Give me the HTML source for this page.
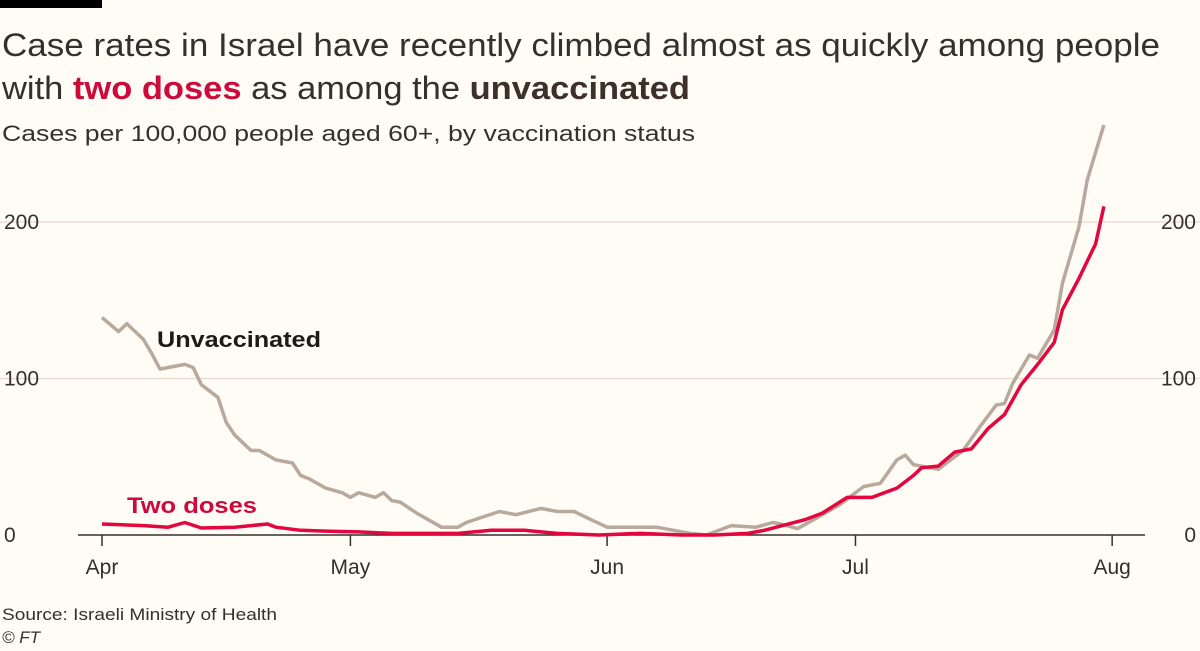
<!DOCTYPE html>
<html><head><meta charset="utf-8"><style>
body{margin:0;background:#fffcf6;font-family:"Liberation Sans",sans-serif;color:#33302e}
svg{display:block}
</style></head><body>
<svg width="1200" height="651">
<rect x="0" y="0" width="102" height="8" fill="#000"/>
<text x="2" y="56" font-size="32" fill="#33302e" textLength="1158" lengthAdjust="spacingAndGlyphs">Case rates in Israel have recently climbed almost as quickly among people</text>
<text x="2" y="99" font-size="32" fill="#33302e" textLength="688" lengthAdjust="spacingAndGlyphs">with <tspan fill="#cc0a3c" font-weight="bold">two doses</tspan> as among the <tspan font-weight="bold" fill="#3d3028">unvaccinated</tspan></text>
<text x="2" y="141" font-size="22" fill="#33302e" textLength="693" lengthAdjust="spacingAndGlyphs">Cases per 100,000 people aged 60+, by vaccination status</text>
<g id="grid"></g><g id="axis"></g><g id="lines"></g>
<text x="157" y="347" font-size="22" font-weight="bold" fill="#1e1a18" textLength="164" lengthAdjust="spacingAndGlyphs">Unvaccinated</text>
<text x="127" y="513" font-size="22" font-weight="bold" fill="#cc0a3c" textLength="130" lengthAdjust="spacingAndGlyphs">Two doses</text>
<text x="2" y="620" font-size="17" fill="#33302e" textLength="275" lengthAdjust="spacingAndGlyphs">Source: Israeli Ministry of Health</text>
<text x="2" y="643" font-size="17" fill="#33302e" font-style="italic">© FT</text>
</svg>
<script>
const yTicks=[0,100,200];
const xTickLabels=["Apr","May","Jun","Jul","Aug"];
const xTickDays=[0,30,61,91,122];
const unvDays=[0,2,3,5,6,7,8,10,11,12,14,15,16,18,19,21,23,24,25,27,29,30,31,33,34,35,36,38,41,43,44,48,50,53,55,57,59,61,67,71,73,76,79,81,82,84,87,89,91,92,94,96,97,98,101,102,104,106,108,109,110,112,113,115,116,118,119,121];
const unvVals=[139,130,135,125,116,106,107,109,107,96,88,72,64,54,54,48,46,38,36,30,27,24,27,24,27,22,21,14,5,5,8,15,13,17,15,15,10,5,5,1,0,6,5,8,7,4,13,19,27,31,33,48,51,45,42,46,54,69,83,84,97,115,113,131,161,197,227,262];
const twoDays=[0,5,8,10,12,16,20,21,24,27,31,35,39,43,47,51,53,55,60,65,70,74,78,80,85,87,90,93,96,98,99,101,103,105,107,109,111,113,115,116,118,120,121];
const twoVals=[7,6,5,8,4.5,5,7,5,3,2.5,2,1,1,1,3,3,2,1,0,1,0,0,1,3,10,14,24,24,30,38,43,44,53,55,68,77,96,109,123,144,164,186,210];
const X=d=>102+d*8.28, Y=v=>535-v*1.565;
const ns="http://www.w3.org/2000/svg";
function mk(tag,attrs,parent){const e=document.createElementNS(ns,tag);for(const k in attrs)e.setAttribute(k,attrs[k]);document.getElementById(parent).appendChild(e);return e;}
yTicks.forEach(t=>{
 if(t>0){const g=mk('line',{x1:0,x2:1200,y1:Y(t),y2:Y(t),stroke:'#e6d9ce','stroke-width':1.2},'grid');
 
 }
 const l=mk('text',{x:4,y:Y(t)+7,'font-size':21,fill:'#33302e'},'grid');l.textContent=t;
 
 
 const r=mk('text',{x:1196,y:Y(t)+7,'font-size':21,fill:'#33302e','text-anchor':'end'},'grid');r.textContent=t;
 
 
});
const ax=mk('line',{x1:78,x2:1145,y1:535,y2:535,stroke:'#33302e','stroke-width':1.5},'axis');


xTickLabels.forEach((s,i)=>{
 const x=X(xTickDays[i]);
 const t=mk('line',{x1:x,x2:x,y1:535,y2:546,stroke:'#33302e','stroke-width':1.5},'axis');
 
 
 const l=mk('text',{x:x,y:574,'font-size':21,'text-anchor':'middle',fill:'#33302e'},'axis');l.textContent=s;
 
 
});
function pts(ds,vs){return ds.map((d,i)=>X(d).toFixed(1)+','+Y(vs[i]).toFixed(1)).join(' ');}
const u=mk('polyline',{points:pts(unvDays,unvVals),fill:'none',stroke:'#b8a99c','stroke-width':3.5,'stroke-linejoin':'round'},'lines');


const w=mk('polyline',{points:pts(twoDays,twoVals),fill:'none',stroke:'#e3063f','stroke-width':3.5,'stroke-linejoin':'round'},'lines');


</script>
</body></html>
